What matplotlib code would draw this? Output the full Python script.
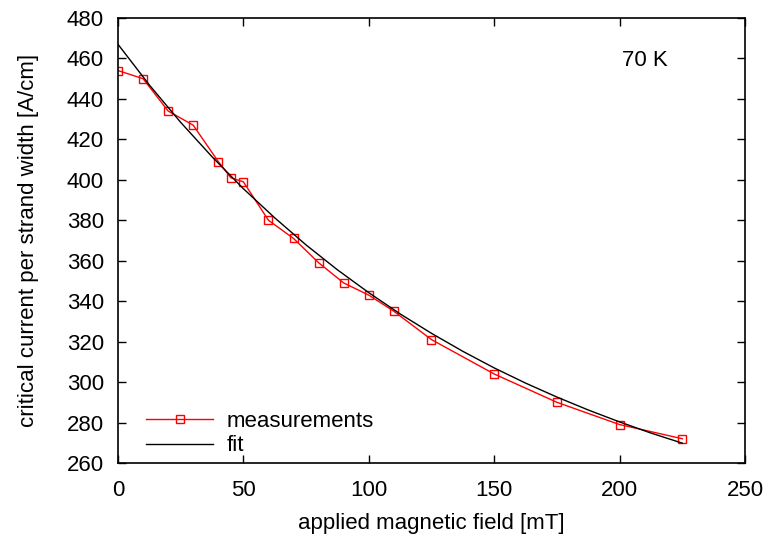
import matplotlib
matplotlib.use('Agg')
import matplotlib.pyplot as plt

# measured critical current at 70 K
field = [0, 10, 20, 30, 40, 45, 50, 60, 70, 80, 90, 100, 110, 125, 150, 175, 200, 225]
current = [454, 450, 434, 427, 409, 401, 399, 380, 371, 359, 349, 343, 335, 321, 304, 290, 279, 272]

# fit curve
fit_field = [0, 12.5, 25, 37.5, 50, 62.5, 75, 87.5, 100, 112.5, 125, 137.5,
             150, 162.5, 175, 187.5, 200, 212.5, 225]
fit_current = [467.0, 446.9, 428.4, 411.4, 395.6, 381.2, 367.8, 355.5, 344.2, 333.7,
               324.1, 315.2, 307.0, 299.5, 292.6, 286.2, 280.3, 274.8, 269.8]

plt.rcParams['font.family'] = ['Liberation Sans', 'DejaVu Sans']
plt.rcParams['font.size'] = 16

fig = plt.figure(figsize=(7.69, 5.35), dpi=100)
ax = fig.add_axes([0.1534, 0.1346, 0.8154, 0.8318])

ax.plot(field, current, color='red', lw=1.0, marker='s', markersize=5.5,
        markerfacecolor='none', markeredgecolor='red', markeredgewidth=1.0,
        label='measurements')
ax.plot(fit_field, fit_current, color='black', lw=1.0, label='fit')

ax.set_xlim(0, 250)
ax.set_ylim(260, 480)
ax.set_xticks(range(0, 251, 50))
ax.set_yticks(range(260, 481, 20))
ax.tick_params(direction='in', top=True, right=True, length=6, width=1, pad=10)
ax.tick_params(axis='x', pad=12)
for s in ax.spines.values():
    s.set_linewidth(1.2)

ax.set_xlabel('applied magnetic field [mT]', labelpad=9)
ax.set_ylabel('critical current per strand width [A/cm]', labelpad=20)
ax.text(201, 459, '70 K', ha='left', va='center')

ax.legend(loc='lower left', frameon=False, handlelength=3.0, handletextpad=0.6,
          borderaxespad=0.0, borderpad=0.0, labelspacing=0.15,
          bbox_to_anchor=(0.045, 0.015))

fig.savefig('out.png', dpi=100)
